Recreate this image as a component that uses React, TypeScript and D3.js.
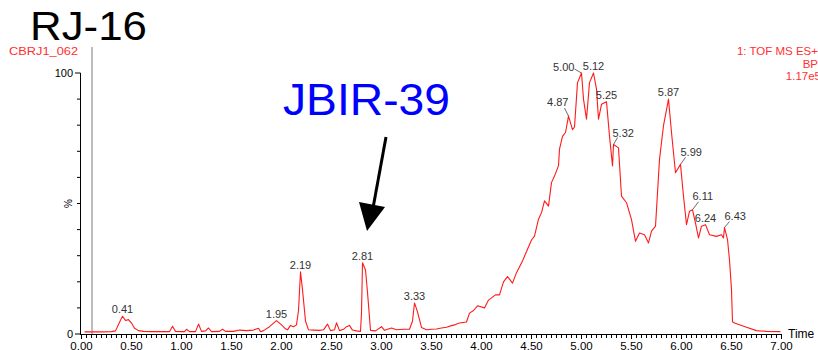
import React from "react";
import * as d3 from "d3";

// Base-peak chromatogram trace: retention time (min) and relative intensity (%)
const times = [
  0.03, 0.1, 0.2, 0.3, 0.34, 0.38, 0.41, 0.44, 0.47, 0.5, 0.53, 0.57, 0.62, 0.7, 0.8, 0.88,
  0.91, 0.94, 1.0, 1.03, 1.05, 1.08, 1.14, 1.17, 1.2, 1.24, 1.27, 1.3, 1.38, 1.41, 1.44, 1.52,
  1.58, 1.65, 1.72, 1.77, 1.79, 1.82, 1.88, 1.95, 2.0, 2.04, 2.06, 2.09, 2.12, 2.15, 2.17, 2.19,
  2.21, 2.24, 2.27, 2.32, 2.38, 2.42, 2.46, 2.49, 2.53, 2.55, 2.58, 2.62, 2.65, 2.68, 2.71, 2.75,
  2.79, 2.8, 2.81, 2.84, 2.86, 2.89, 2.94, 3.0, 3.03, 3.1, 3.15, 3.22, 3.28, 3.31, 3.33, 3.36,
  3.4, 3.45, 3.5, 3.55, 3.6, 3.65, 3.7, 3.74, 3.78, 3.85, 3.88, 3.92, 3.96, 4.03, 4.07, 4.14,
  4.18, 4.22, 4.26, 4.31, 4.35, 4.41, 4.46, 4.5, 4.53, 4.57, 4.6, 4.63, 4.67, 4.7, 4.73, 4.77,
  4.78, 4.81, 4.84, 4.87, 4.91, 4.93, 4.96, 5.0, 5.02, 5.05, 5.08, 5.12, 5.15, 5.17, 5.2, 5.25,
  5.28, 5.31, 5.32, 5.37, 5.4, 5.45, 5.5, 5.54, 5.58, 5.63, 5.67, 5.7, 5.74, 5.78, 5.82, 5.87,
  5.9, 5.94, 5.99, 6.02, 6.05, 6.08, 6.11, 6.14, 6.17, 6.2, 6.24, 6.28, 6.35, 6.4, 6.42, 6.43,
  6.46, 6.48, 6.5, 6.51, 6.53, 6.65, 6.75, 6.85, 6.99,
];
const intensity = [
  0.8, 0.8, 0.8, 0.9, 1.2, 4.5, 6.8, 5.2, 5.5, 4.2, 2.2, 1.3, 1.0, 0.9, 0.9, 0.9,
  3.0, 1.0, 0.9, 0.9, 1.8, 0.9, 0.9, 3.8, 1.0, 1.2, 2.3, 0.9, 1.0, 1.8, 1.0, 1.0,
  1.5, 1.3, 1.5, 2.2, 0.9, 1.3, 2.8, 5.1, 3.5, 2.0, 1.6, 3.3, 2.8, 3.5, 9.0, 23.8,
  17.0, 5.0, 1.6, 1.5, 1.4, 1.6, 3.8, 1.3, 1.6, 4.3, 1.3, 1.8, 2.8, 3.3, 1.5, 1.2,
  1.0, 8.0, 27.3, 24.5, 16.0, 1.4, 1.2, 2.8, 1.4, 2.3, 1.6, 1.8, 1.8, 5.0, 11.9, 8.5,
  2.5, 1.6, 1.8, 1.9, 2.3, 2.6, 3.2, 3.6, 4.2, 4.6, 8.0, 9.0, 10.8, 10.0, 13.0, 15.0,
  15.0, 20.0, 22.0, 19.5, 23.5, 28.0, 32.5, 36.0, 37.5, 44.0, 46.5, 51.0, 49.0, 58.0, 60.5, 64.5,
  70.8, 75.7, 77.2, 83.5, 78.3, 79.3, 96.3, 100, 90.0, 82.3, 96.3, 100, 93.8, 82.3, 88.0, 89.0,
  75.8, 64.4, 72.6, 71.3, 52.8, 50.3, 43.8, 35.5, 38.7, 38.0, 34.9, 39.4, 41.3, 66.9, 79.8, 90.0,
  77.2, 61.8, 65.0, 52.8, 41.9, 47.0, 47.6, 42.5, 36.8, 41.3, 41.9, 38.0, 37.4, 38.0, 36.8, 40.8,
  36.2, 28.4, 16.9, 4.7, 4.2, 2.6, 1.3, 1.0, 0.9,
];

// Retention times annotated above the trace
const peakLabels = [0.41, 1.95, 2.19, 2.81, 3.33, 4.87, 5.0, 5.12, 5.25, 5.32, 5.87, 5.99, 6.11, 6.24, 6.43];

const xTickLabels = [0, 0.5, 1, 1.5, 2, 2.5, 3, 3.5, 4, 4.5, 5, 5.5, 6, 6.5, 7];
const yTickLabels = [0, 100];

const FONT = "'Liberation Sans', Arial, Helvetica, sans-serif";
const W = 818;
const H = 350;

// Label placement: anchor, text offset from apex, optional leader end offset
const labelStyle: Record<string, { anchor: string; dx: number; dy: number; lead?: [number, number] }> = {
  "4.87": { anchor: "end", dx: 0, dy: -10, lead: [-4, -8] },
  "5.00": { anchor: "end", dx: -7, dy: -2, lead: [-7, -4] },
  "5.32": { anchor: "start", dx: -1, dy: -8, lead: [4, -7] },
  "5.99": { anchor: "start", dx: 0, dy: -8, lead: [5, -7] },
  "6.11": { anchor: "start", dx: 0, dy: -10, lead: [6, -8] },
  "6.43": { anchor: "start", dx: 0, dy: -8, lead: [5, -6] },
};

export default function App() {
  const x = d3.scaleLinear().domain([0, 7]).range([81.5, 781.5]);
  const y = d3.scaleLinear().domain([0, 100]).range([334, 73]);

  const pts: [number, number][] = times.map((t, i) => [t, intensity[i]]);
  const line = d3
    .line<[number, number]>()
    .x((d) => x(d[0]))
    .y((d) => y(d[1]))
    .curve(d3.curveLinear);

  const xMinor = d3.range(0, 141).map((i) => i * 0.05);
  const yMinor = d3.range(0, 11).map((i) => i * 10);

  return (
    <svg
      width={W}
      height={H}
      viewBox={`0 0 ${W} ${H}`}
      style={{ position: "fixed", left: 0, top: 0, background: "#fff" }}
      fontFamily={FONT}
    >
      <rect x={0} y={0} width={W} height={H} fill="#fff" />

      {/* sample title */}
      <text x={30} y={40} fontSize={41} fill="#000" textLength={117} lengthAdjust="spacingAndGlyphs">
        RJ-16
      </text>
      <text x={9} y={55} fontSize={11.5} fill="#ff3030" textLength={69} lengthAdjust="spacingAndGlyphs">
        CBRJ1_062
      </text>

      {/* acquisition info */}
      <g fill="#ff3030" fontSize={11.5} textAnchor="end">
        <text x={818} y={55}>1: TOF MS ES+</text>
        <text x={818} y={67.5}>BP</text>
        <text x={821} y={80}>1.17e5</text>
      </g>

      {/* cursor line */}
      <line x1={92} x2={92} y1={47} y2={y(0)} stroke="#7a7a7a" strokeWidth={1} />

      {/* y axis */}
      <g stroke="#000" strokeWidth={1}>
        <line x1={80.5} x2={80.5} y1={y(100)} y2={y(0)} />
        {yMinor.map((v) => (
          <line key={v} x1={v % 100 === 0 ? 75 : 77} x2={80.5} y1={y(v)} y2={y(v)} />
        ))}
      </g>
      {yTickLabels.map((v) => (
        <text key={v} x={73} y={y(v) + 4} fontSize={11} textAnchor="end" fill="#000">
          {v}
        </text>
      ))}
      <text
        x={0}
        y={0}
        fontSize={10}
        textAnchor="middle"
        fill="#000"
        transform={`translate(72,${y(50)}) rotate(-90)`}
      >
        %
      </text>

      {/* x axis */}
      <g stroke="#000" strokeWidth={1}>
        <line x1={80} x2={x(7)} y1={y(0) + 0.5} y2={y(0) + 0.5} />
        {xMinor.map((t, i) => (
          <line key={i} x1={x(t)} x2={x(t)} y1={y(0)} y2={y(0) + (i % 10 === 0 ? 5 : 4)} />
        ))}
      </g>
      {xTickLabels.map((t) => (
        <text key={t} x={x(t)} y={349.5} fontSize={11.5} textAnchor="middle" fill="#000">
          {t.toFixed(2)}
        </text>
      ))}
      <text x={788} y={338} fontSize={12} fill="#000">
        Time
      </text>

      {/* trace */}
      <path d={line(pts) || ""} fill="none" stroke="#ff1a1a" strokeWidth={1.1} strokeLinejoin="round" />

      {/* peak labels */}
      {peakLabels.map((t) => {
        const idx = times.findIndex((v) => Math.abs(v - t) < 1e-6);
        const px = x(t);
        const py = y(intensity[idx]);
        const key = t.toFixed(2);
        const st = labelStyle[key] || { anchor: "middle", dx: 0, dy: -3 };
        return (
          <g key={key}>
            {st.lead && (
              <line x1={px} y1={py} x2={px + st.lead[0]} y2={py + st.lead[1]} stroke="#444" strokeWidth={0.8} />
            )}
            <text x={px + st.dx} y={py + st.dy} fontSize={11} textAnchor={st.anchor} fill="#333">
              {key}
            </text>
          </g>
        );
      })}

      {/* compound annotation */}
      <text x={283} y={115} fontSize={45} fill="#0000ff" textLength={167} lengthAdjust="spacingAndGlyphs">
        JBIR-39
      </text>
      <line x1={386} y1={137} x2={373} y2={208} stroke="#000" strokeWidth={3} />
      <polygon points="367,231 359,202 385,207" fill="#000" />
    </svg>
  );
}
